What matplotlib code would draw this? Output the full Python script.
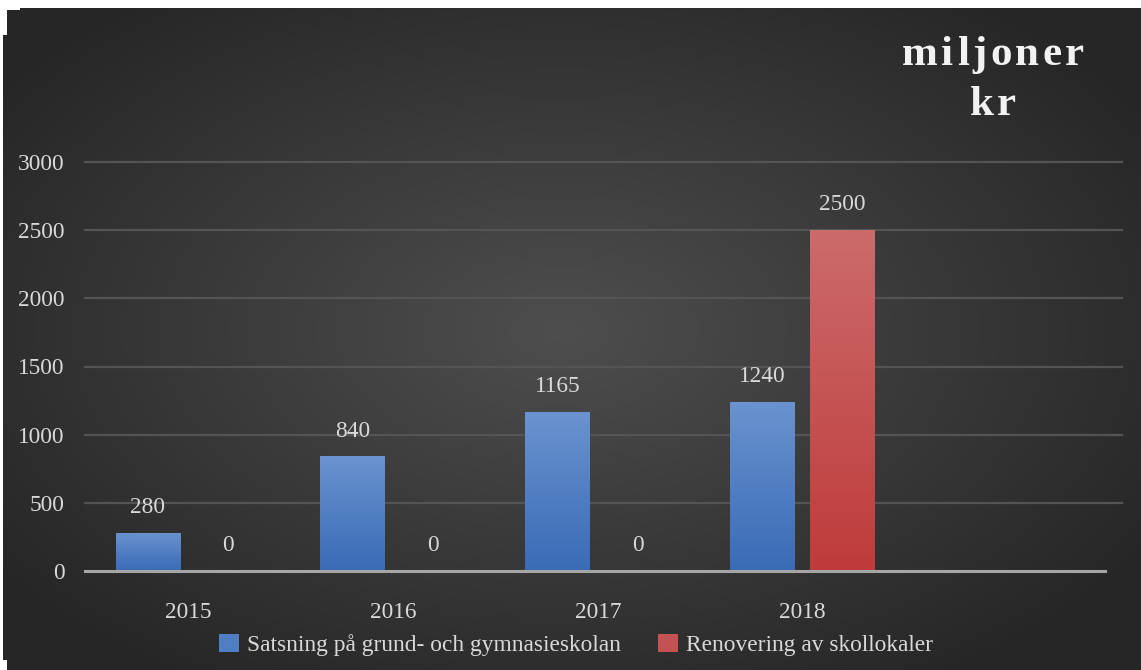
import numpy as np
import matplotlib
matplotlib.use("Agg")
import matplotlib.pyplot as plt
from matplotlib.patches import Patch

# data
years = ["2015", "2016", "2017", "2018", ""]
satsning = [280, 840, 1165, 1240]
renovering = [0, 0, 0, 2500]
yticks = [0, 500, 1000, 1500, 2000, 2500, 3000]
series_names = ["Satsning på grund- och gymnasieskolan", "Renovering av skollokaler"]

W, H = 1141, 670
plt.rcParams['font.family'] = ['Liberation Serif', 'DejaVu Serif']
txt_col = '#d9d9d9'
fs = 16.8

fig = plt.figure(figsize=(W / 100, H / 100), dpi=100)

# background: dark radial gradient with white margin
bg = fig.add_axes([0, 0, 1, 1])
yy, xx = np.mgrid[0:H, 0:W]
r = np.sqrt(((xx - 560) / 700.) ** 2 + ((yy - 330) / 420.) ** 2)
r = np.clip(r, 0, 1)
c0, c1 = 0x4e / 255., 0x26 / 255.
img = c0 + (c1 - c0) * r
rgb = np.dstack([img, img, img])
rgb[:8, :, :] = 1
rgb[:, :3, :] = 1
rgb[:35, :7, :] = 1
rgb[:10, :20, :] = 1
rgb[660:, :7, :] = 1
bg.imshow(rgb, extent=[0, W, H, 0], aspect='auto')
bg.set_xlim(0, W)
bg.set_ylim(H, 0)
bg.axis('off')

# plot area
ax = fig.add_axes([85.5 / W, (H - 571) / H, (1110 - 85.5) / W, (571 - 162) / H])
ax.patch.set_alpha(0)
ax.set_xlim(-0.5, 4.5)
ax.set_ylim(0, 3000)

for yv in yticks[1:]:
    ax.plot([-0.5, 4.56], [yv, yv], color='#545454', lw=1.6, zorder=1, clip_on=False)
ax.plot([-0.5, 4.475], [0, 0], color='#a6a6a6', lw=2.2, zorder=4, clip_on=False)

bw = 0.317
off = 0.195
x = np.arange(len(satsning))


def grad_bars(xpos, vals, top_col, bot_col):
    bars = ax.bar(xpos, vals, width=bw, color='none', zorder=2)
    grad = np.linspace(0, 1, 256).reshape(-1, 1)
    t = np.array(matplotlib.colors.to_rgb(top_col))
    b = np.array(matplotlib.colors.to_rgb(bot_col))
    cols = b[None, None, :] + (t - b)[None, None, :] * grad[:, :, None]
    for bar, v in zip(bars, vals):
        if v <= 0:
            continue
        x0 = bar.get_x()
        im = ax.imshow(cols, extent=[x0, x0 + bw, 0, v], origin='lower',
                       aspect='auto', zorder=2)
        im.set_clip_path(bar)
    return bars


grad_bars(x - off, satsning, '#6a93cf', '#3a6bb6')
grad_bars(x + off, renovering, '#cc6b6b', '#bf3b3b')
ax.set_xlim(-0.5, 4.5)
ax.set_ylim(0, 3000)

for xi, v in zip(x - off, satsning):
    ax.text(xi, v + 185, str(v), ha='center', va='center', fontsize=fs, color=txt_col)
for xi, v in zip(x + off, renovering):
    ax.text(xi, v + 185, str(v), ha='center', va='center', fontsize=fs, color=txt_col)

ax.set_xticks(np.arange(len(years)))
ax.set_xticklabels(years, fontsize=fs, color=txt_col)
ax.set_yticks(yticks)
ax.set_yticklabels([str(v) for v in yticks], fontsize=fs, color=txt_col)
ax.tick_params(axis='both', length=0)
ax.tick_params(axis='x', pad=22)
ax.tick_params(axis='y', pad=15)
for s in ax.spines.values():
    s.set_visible(False)


# title with wide letter spacing
def spaced_text(word, xc, yb, size, spacing):
    rend = fig.canvas.get_renderer()
    widths = []
    for ch in word:
        t = fig.text(0, 0, ch, fontsize=size, fontweight='bold')
        widths.append(t.get_window_extent(rend).width)
        t.remove()
    total = sum(widths) + spacing * (len(word) - 1)
    xp = xc - total / 2
    for ch, w in zip(word, widths):
        fig.text(xp / W, 1 - yb / H, ch, ha='left', va='baseline', fontsize=size,
                 fontweight='bold', color='#f2f2f2')
        xp += w + spacing


spaced_text("miljoner", 993, 65, 31, 3.5)
spaced_text("kr", 993, 115, 31, 3.5)

# legend
handles = [Patch(facecolor='#4f7ec2', edgecolor='none'),
           Patch(facecolor='#c55252', edgecolor='none')]
fig.legend(handles, series_names, loc='center', bbox_to_anchor=(576 / W, 1 - 645 / H),
           ncol=2, frameon=False, fontsize=fs, labelcolor=txt_col,
           handlelength=0.85, handleheight=0.85, handletextpad=0.35, columnspacing=1.6)

fig.savefig("out.png", dpi=100)
